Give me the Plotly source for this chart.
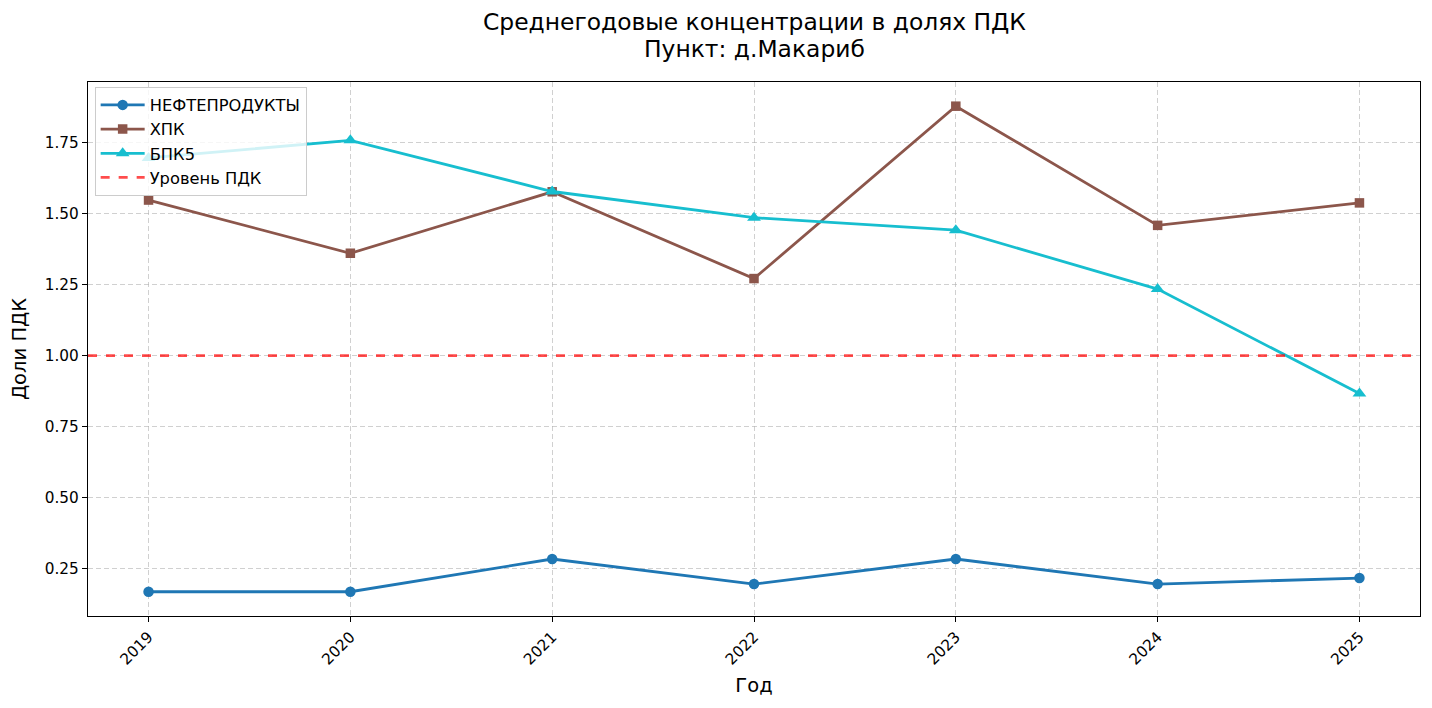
import plotly.graph_objects as go

years = [2019, 2020, 2021, 2022, 2023, 2024, 2025]
nefteprodukty = [0.170, 0.170, 0.285, 0.197, 0.285, 0.197, 0.218]
hpk = [1.547, 1.360, 1.576, 1.271, 1.877, 1.458, 1.537]
bpk5 = [1.695, 1.757, 1.577, 1.485, 1.441, 1.234, 0.867]
pdk_level = 1.0
y_ticks = [0.25, 0.50, 0.75, 1.00, 1.25, 1.50, 1.75]
title_line1 = "Среднегодовые концентрации в долях ПДК"
title_line2 = "Пункт: д.Макариб"

FONT = "DejaVu Sans"
GRID = "rgba(176,176,176,0.6)"

fig = go.Figure()
series = [
    ("НЕФТЕПРОДУКТЫ", nefteprodukty, "#1f77b4", "circle", 10.5),
    ("ХПК", hpk, "#8c564b", "square", 9.5),
    ("БПК5", bpk5, "#17becf", "triangle-up", 12),
]
for i, (name, vals, color, sym, size) in enumerate(series):
    fig.add_trace(go.Scatter(
        x=years, y=vals, name=name, mode="lines+markers", legendgroup=f"g{i}",
        line=dict(color=color, width=2.8),
        marker=dict(symbol=sym, size=size, color=color),
    ))

fig.add_shape(type="line", xref="paper", x0=0, x1=1, yref="y", y0=pdk_level, y1=pdk_level,
              line=dict(color="rgba(255,0,0,0.7)", width=2.8, dash="dash"), layer="above")
fig.add_trace(go.Scatter(
    x=[None], y=[None], name="Уровень ПДК", mode="lines", legendgroup="g3",
    line=dict(color="rgba(255,0,0,0.7)", width=2.8, dash="dash"),
))

fig.add_annotation(text=title_line1, xref="paper", yref="paper", x=0.5, y=1,
                   yshift=60, xanchor="center", yanchor="middle", showarrow=False,
                   font=dict(family=FONT, size=23.4, color="black"))
fig.add_annotation(text=title_line2, xref="paper", yref="paper", x=0.5, y=1,
                   yshift=33, xanchor="center", yanchor="middle", showarrow=False,
                   font=dict(family=FONT, size=23.4, color="black"))

fig.update_layout(
    width=1432, height=708,
    margin=dict(l=88, r=12, t=82, b=92),
    paper_bgcolor="white", plot_bgcolor="white",
    font=dict(family=FONT, color="black", size=15),
    showlegend=True,
    legend=dict(
        x=0.005, y=0.991, xanchor="left", yanchor="top",
        bgcolor="rgba(255,255,255,0.8)", bordercolor="#cccccc", borderwidth=1,
        font=dict(family=FONT, size=16.3, color="black"),
        tracegroupgap=0, itemwidth=44,
    ),
)

fig.update_xaxes(
    range=[2018.7, 2025.3],
    tickmode="array", tickvals=years, ticktext=[str(y) for y in years],
    tickangle=-45, ticks="outside", ticklen=5, tickcolor="black",
    showline=True, linecolor="black", linewidth=1.2, mirror=True,
    showgrid=True, gridcolor=GRID, griddash="5px,3px", gridwidth=1,
    zeroline=False,
    title=dict(text="Год", font=dict(family=FONT, size=19.5, color="black"), standoff=10),
    tickfont=dict(family=FONT, size=15.3, color="black"),
)
fig.update_yaxes(
    range=[0.0847, 1.962],
    tickmode="array", tickvals=y_ticks, ticktext=[f"{v:.2f}" for v in y_ticks],
    ticks="outside", ticklen=5, tickcolor="black",
    showline=True, linecolor="black", linewidth=1.2, mirror=True,
    showgrid=True, gridcolor=GRID, griddash="5px,3px", gridwidth=1,
    zeroline=False,
    title=dict(text="Доли ПДК", font=dict(family=FONT, size=19.5, color="black"), standoff=12),
    tickfont=dict(family=FONT, size=15.3, color="black"),
)

fig.write_html("out.html")
